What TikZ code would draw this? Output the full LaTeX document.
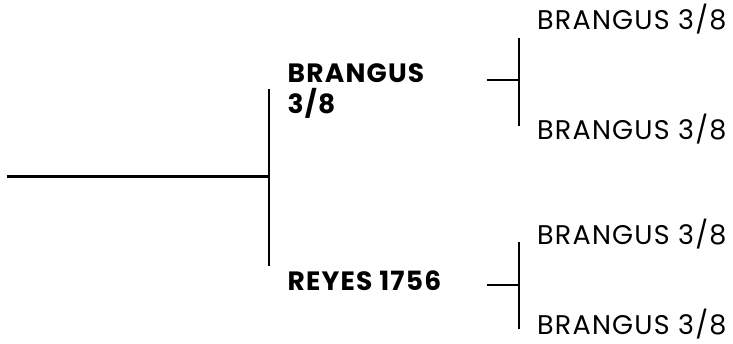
\documentclass[tikz,border=0pt]{standalone}
\usepackage{fontspec}
\setmainfont{Poppins}
\newfontfamily\pedfont[LetterSpace=4.5]{Poppins}
\usetikzlibrary{positioning}

\tikzset{
  sire/.style={anchor=base west, inner sep=0pt, font=\pedfont\fontsize{26.5}{31}\selectfont\bfseries, align=left},
  grand/.style={anchor=base west, inner sep=0pt, font=\pedfont\fontsize{27}{30}\selectfont},
  bar/.style={line width=2.6pt}
}

\begin{document}
\begin{tikzpicture}[x=1pt,y=1pt]
    \useasboundingbox (0,0) rectangle (733,344);
    % parents
    \node[sire] (sire) at (287.5,230.7) {BRANGUS\\3/8};
    \node[sire] (dam) at (287.5,53.3) {REYES 1756};
    % grandparents
    \node[grand] (ss) at (537,314.7) {BRANGUS 3/8};
    \node[grand] (sd) at (537,204.7) {BRANGUS 3/8};
    \node[grand] (ds) at (537,99.7) {BRANGUS 3/8};
    \node[grand] (dd) at (537,9) {BRANGUS 3/8};
    % bracket lines
    \coordinate (root) at (7,167.5);
    \coordinate (fork) at (269,167.5);
    \coordinate (forktop) at (269,255);
    \coordinate (forkbot) at (269,78);
    \coordinate (sirein) at (487,264);
    \coordinate (sirefork) at (519,264);
    \coordinate (damin) at (487,59);
    \coordinate (damfork) at (519,59);
    \draw[bar] (root) -- (fork);
    \draw[bar] (forktop) -- (forkbot);
    \draw[bar] (sirein) -- (sirefork);
    \draw[bar] (519,306) -- (519,218);
    \draw[bar] (damin) -- (damfork);
    \draw[bar] (519,102) -- (519,15);
\end{tikzpicture}
\end{document}
